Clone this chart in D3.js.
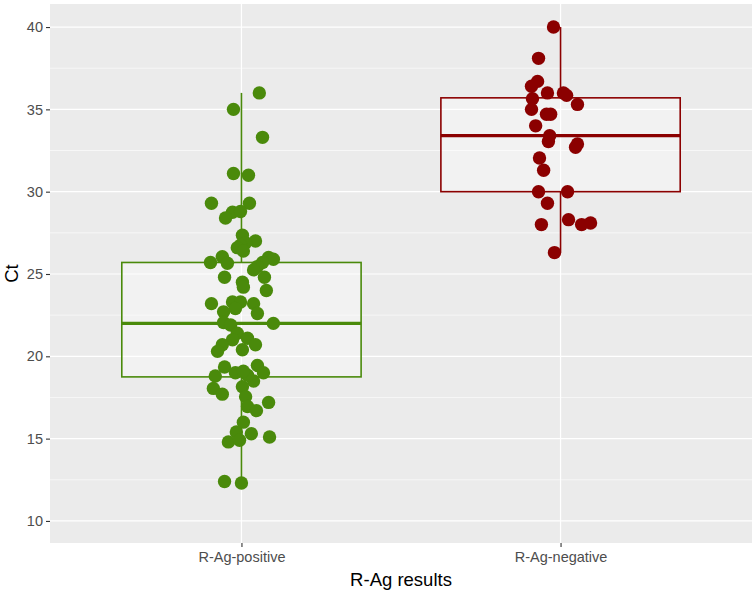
<!DOCTYPE html>
<html><head><meta charset="utf-8">
<script src="https://cdn.jsdelivr.net/npm/d3@7"></script>
<style>body{margin:0;background:#fff}svg{display:block}</style>
</head><body><svg id="c" width="755" height="593"></svg>
<script>
const categories = ["R-Ag-positive", "R-Ag-negative"];
const colors = ["#4a8a0b", "#8b0000"];
// box stats: [min, q1, median, q3, max]
const boxStats = [
  [12.3, 18.75, 22.0, 25.7, 36.0],
  [26.3, 30.0, 33.4, 35.7, 40.0]
];
const positiveCt = [36.0,35.0,33.3,31.1,31.0,29.3,29.3,28.75,28.8,28.4,27.35,27.0,26.9,26.75,26.6,26.4,25.7,26.05,25.65,26.0,25.9,25.7,25.45,25.25,24.8,24.8,24.5,24.2,24.0,23.2,23.3,23.3,23.2,22.9,22.7,22.6,22.05,21.9,22.0,21.4,21.0,21.1,20.7,20.7,20.3,20.4,19.35,18.8,19.0,19.45,19.0,18.5,18.85,19.1,18.05,17.7,18.15,17.55,16.95,16.7,17.2,16.0,15.4,15.3,15.1,14.8,14.9,12.4,12.3];
const positiveJitter = [0.056,-0.025,0.066,-0.025,0.022,-0.094,0.025,-0.028,-0.003,-0.050,0.003,0.044,0.013,-0.003,-0.013,0.006,-0.097,-0.060,-0.044,0.085,0.100,0.066,0.050,0.038,-0.053,0.072,0.003,0.006,0.078,-0.094,-0.028,-0.003,0.038,-0.019,-0.056,0.050,-0.056,-0.034,0.100,-0.013,-0.028,0.019,-0.060,0.044,-0.075,0.003,-0.053,-0.082,-0.019,0.050,0.069,0.038,0.019,0.006,-0.088,-0.060,0.003,0.013,0.019,0.047,0.085,0.006,-0.016,0.031,0.088,-0.041,-0.006,-0.053,0.000];
const negativeCt = [40.0,38.1,36.7,36.4,36.0,36.0,35.85,35.65,35.3,35.0,34.7,34.7,34.0,33.4,33.05,32.9,32.7,32.05,31.3,30.0,30.0,29.3,28.0,28.3,28.0,28.1,26.3];
const negativeJitter = [-0.022,-0.069,-0.072,-0.091,-0.041,0.009,0.019,-0.088,0.053,-0.091,-0.044,-0.031,-0.078,-0.034,-0.038,0.053,0.047,-0.066,-0.053,-0.069,0.022,-0.041,-0.060,0.025,0.066,0.094,-0.019];
const yTicks = [10,15,20,25,30,35,40];
const yMinor = [12.5,17.5,22.5,27.5,32.5,37.5];

const svg = d3.select("#c");
const P = {l:50, r:752, t:4, b:543};
const x = d3.scalePoint().domain(categories).range([P.l, P.r]).padding(0.6);
const step = x.step();
const y = d3.scaleLinear().domain([8.66, 41.4]).range([P.b, P.t]);
const FONT = "Liberation Sans, Arial, sans-serif";

svg.append("rect").attr("x",P.l).attr("y",P.t).attr("width",P.r-P.l).attr("height",P.b-P.t).attr("fill","#ebebeb");
const g = svg.append("g");
g.selectAll(".mn").data(yMinor).join("line").attr("x1",P.l).attr("x2",P.r)
  .attr("y1",d=>y(d)).attr("y2",d=>y(d)).attr("stroke","#fff").attr("stroke-width",0.6);
g.selectAll(".mj").data(yTicks).join("line").attr("x1",P.l).attr("x2",P.r)
  .attr("y1",d=>y(d)).attr("y2",d=>y(d)).attr("stroke","#fff").attr("stroke-width",1.2);
g.selectAll(".vx").data(categories).join("line").attr("y1",P.t).attr("y2",P.b)
  .attr("x1",d=>x(d)).attr("x2",d=>x(d)).attr("stroke","#fff").attr("stroke-width",1.2);

const bw = step*0.75;
categories.forEach((c,i)=>{
  const s = boxStats[i], cx = x(c), col = colors[i];
  const bg = svg.append("g");
  bg.append("line").attr("x1",cx).attr("x2",cx).attr("y1",y(s[3])).attr("y2",y(s[4])).attr("stroke",col).attr("stroke-width",1.6);
  bg.append("line").attr("x1",cx).attr("x2",cx).attr("y1",y(s[1])).attr("y2",y(s[0])).attr("stroke",col).attr("stroke-width",1.6);
  bg.append("rect").attr("x",cx-bw/2).attr("width",bw).attr("y",y(s[3])).attr("height",y(s[1])-y(s[3]))
    .attr("fill","#fff").attr("fill-opacity",0.35).attr("stroke",col).attr("stroke-width",1.6);
  bg.append("line").attr("x1",cx-bw/2).attr("x2",cx+bw/2).attr("y1",y(s[2])).attr("y2",y(s[2])).attr("stroke",col).attr("stroke-width",3.2);
});

const groups = [[positiveCt, positiveJitter],[negativeCt, negativeJitter]];
groups.forEach(([vals,jit],i)=>{
  svg.append("g").selectAll("circle").data(vals).join("circle")
    .attr("cx",(d,k)=>x(categories[i]) + jit[k]*step)
    .attr("cy",d=>y(d)).attr("r",6.7).attr("fill",colors[i]);
});

// axes
const yAx = svg.append("g").attr("transform",`translate(${P.l},0)`)
  .call(d3.axisLeft(y).tickValues(yTicks).tickSize(4).tickPadding(3));
const xAx = svg.append("g").attr("transform",`translate(0,${P.b})`)
  .call(d3.axisBottom(x).tickSize(4).tickPadding(5));
[yAx,xAx].forEach(a=>{
  a.select(".domain").remove();
  a.selectAll(".tick line").attr("stroke","#333").attr("stroke-width",1.1);
  a.selectAll(".tick text").attr("fill","#4d4d4d").style("font-family",FONT).style("font-size","14.5px");
});
svg.append("text").attr("x",(P.l+P.r)/2).attr("y",586).attr("text-anchor","middle")
  .style("font-family",FONT).style("font-size","18.5px").attr("fill","#000").text("R-Ag results");
svg.append("text").attr("transform",`translate(18,${(P.t+P.b)/2}) rotate(-90)`).attr("text-anchor","middle")
  .style("font-family",FONT).style("font-size","18.5px").attr("fill","#000").text("Ct");
</script></body></html>
